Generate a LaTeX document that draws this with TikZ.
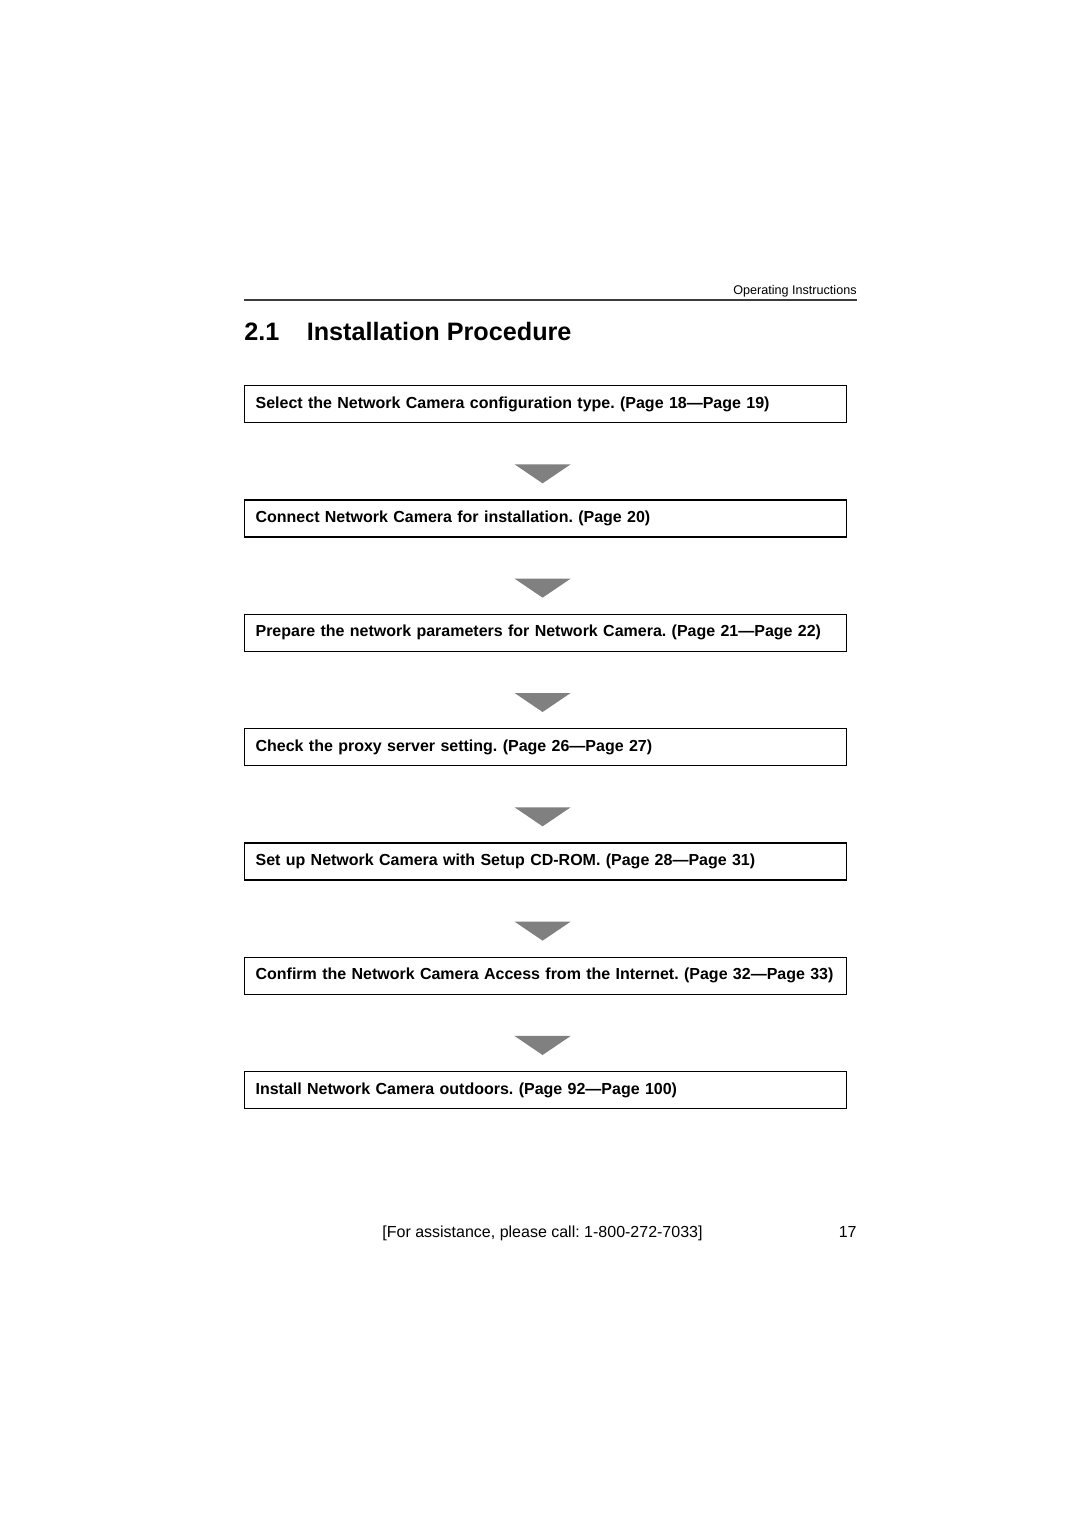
\documentclass[tikz,border=0pt]{standalone}
\usepackage{fontspec}
\setmainfont{Liberation Sans}
\usetikzlibrary{calc}
\frenchspacing

\def \boxLeft {244}
\def \boxRight {846}
\def \boxGap {114.33}
\definecolor{arrowgray}{HTML}{808080}
\definecolor{rulegray}{HTML}{3C3C3C}

\tikzset{
  stepbox/.style={draw=black, line width=0.6pt, anchor=north west,
    minimum width=301pt, minimum height=18.5pt, inner xsep=5.5pt,
    text width=290pt, align=left, font=\fontsize{8}{9.5}\selectfont\bfseries},
  downarrow/.style={fill=arrowgray},
  pagetext/.style={inner sep=0pt, font=\fontsize{8}{9}\selectfont}
}

\begin{document}
\begin{tikzpicture}[x=0.5pt, y=-0.5pt]
  \useasboundingbox (0,0) rectangle (1080,1528);

  % header
  \node[inner sep=0pt, anchor=base east, font=\fontsize{6.3}{7}\selectfont] (hdr) at (857,294) {Operating Instructions};
  \coordinate (ruleL) at (244,300);
  \coordinate (ruleR) at (857,300);
  \draw[rulegray, line width=0.9pt] (ruleL) -- (ruleR);
  \node[inner sep=0pt, anchor=base west, font=\fontsize{12.6}{15}\selectfont\bfseries] (title) at (244,340)
    {2.1\hspace{13.7pt}Installation Procedure};

  % steps
  \foreach \i/\txt in {
      1/{Select the Network Camera configuration type. (Page 18---Page 19)},
      2/{Connect Network Camera for installation. (Page 20)},
      3/{Prepare the network parameters for Network Camera. (Page 21---Page 22)},
      4/{Check the proxy server setting. (Page 26---Page 27)},
      5/{Set up Network Camera with Setup CD-ROM. (Page 28---Page 31)},
      6/{Confirm the Network Camera Access from the Internet. (Page 32---Page 33)},
      7/{Install Network Camera outdoors. (Page 92---Page 100)}}
    \node[stepbox] (s\i) at (\boxLeft, {385+(\i-1)*\boxGap}) {\txt};

  % arrows between steps
  \foreach \i [evaluate=\i as \j using int(\i+1)] in {1,...,6} {
    \coordinate (a\i) at ($(s\j.north)+(-3,-16)$);
    \fill[downarrow] (a\i) -- ++(-28,-19) -- ++(56,0) -- cycle;
  }

  % footer
  \node[pagetext, anchor=base west] (help) at (382,1237) {[For assistance, please call: 1-800-272-7033]};
  \node[pagetext, anchor=base east] (pnum) at (857,1237) {17};
\end{tikzpicture}
\end{document}
